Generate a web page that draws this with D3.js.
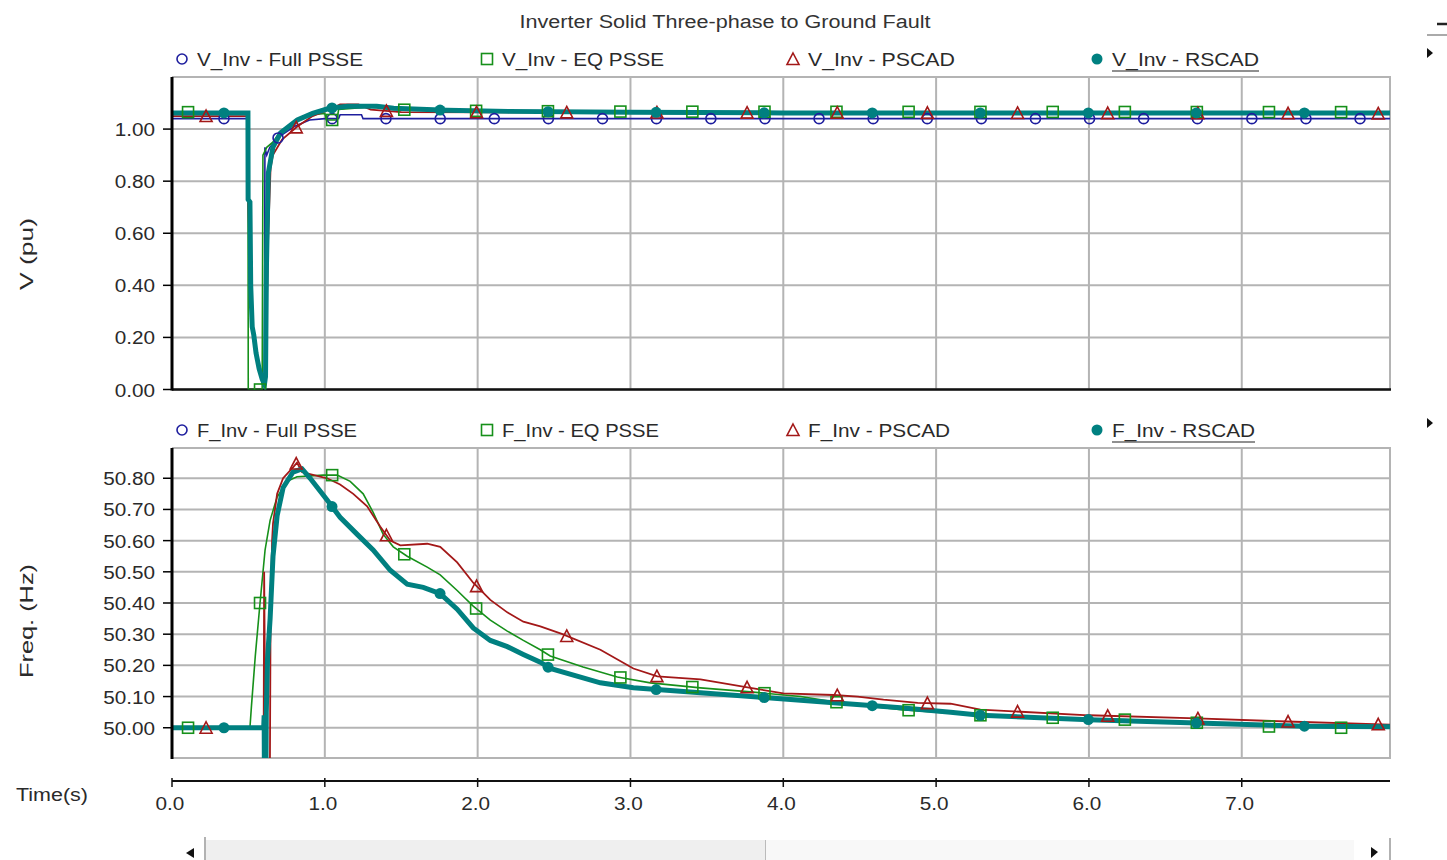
<!DOCTYPE html>
<html>
<head>
<meta charset="utf-8">
<script src="https://cdn.jsdelivr.net/npm/d3@7"></script>
<style>
  html, body { margin: 0; padding: 0; background: #ffffff; }
  svg { display: block; }
  text { font-family: "Liberation Sans", Arial, sans-serif; fill: #2a2a2a; }
</style>
</head>
<body>
<svg id="chart" width="1447" height="860"></svg>
<script>
// ---------------- DATA ----------------
const title = "Inverter Solid Three-phase to Ground Fault";
const xTicks = [0, 1, 2, 3, 4, 5, 6, 7];
const vTicks = [0, 0.2, 0.4, 0.6, 0.8, 1.0];
const fTicks = [50.0, 50.1, 50.2, 50.3, 50.4, 50.5, 50.6, 50.7, 50.8];
const seriesNames = ["Full PSSE", "EQ PSSE", "PSCAD", "RSCAD"];

// Voltage (pu) — [time s, value]
const vFullPSSE = [[0,1.04],[0.497,1.04],[0.50,0.72],[0.51,0.40],[0.53,0.20],[0.57,0.07],[0.60,0.02],[0.605,0.02],[0.608,0.93],[0.62,0.90],[0.64,0.93],[0.70,0.97],[0.80,1.01],[0.90,1.035],[1.0,1.04],[1.09,1.04],[1.10,1.055],[1.24,1.055],[1.25,1.04],[7.97,1.04]];
const vEQPSSE = [[0,1.065],[0.497,1.065],[0.499,0.0],[0.59,0.0],[0.595,0.90],[0.62,0.93],[0.66,0.95],[0.71,0.99],[0.82,1.035],[0.92,1.055],[1.0,1.06],[1.01,1.035],[1.08,1.035],[1.09,1.075],[1.3,1.085],[1.45,1.075],[2.0,1.07],[3.0,1.067],[7.97,1.065]];
const vPSCAD = [[0,1.05],[0.497,1.05],[0.50,0.72],[0.51,0.40],[0.53,0.20],[0.57,0.07],[0.60,0.02],[0.615,0.02],[0.62,0.30],[0.63,0.60],[0.645,0.85],[0.66,0.90],[0.72,0.96],[0.82,1.01],[0.92,1.05],[1.05,1.08],[1.10,1.095],[1.22,1.095],[1.30,1.075],[1.50,1.065],[7.97,1.06]];
const vRSCAD = [[0,1.062],[0.497,1.062],[0.498,0.73],[0.51,0.72],[0.515,0.40],[0.525,0.24],[0.535,0.21],[0.55,0.14],[0.57,0.08],[0.59,0.04],[0.605,0.02],[0.612,0.05],[0.618,0.47],[0.63,0.83],[0.66,0.93],[0.71,0.985],[0.82,1.035],[0.92,1.06],[1.03,1.08],[1.15,1.088],[1.34,1.088],[1.45,1.08],[1.8,1.072],[2.2,1.068],[3.0,1.065],[4.0,1.062],[7.97,1.062]];

// Frequency (Hz) — [time s, value]
const fEQPSSE = [[0,50.0],[0.51,50.0],[0.52,50.07],[0.545,50.23],[0.576,50.40],[0.609,50.57],[0.642,50.665],[0.688,50.74],[0.753,50.79],[0.818,50.805],[0.989,50.81],[1.081,50.81],[1.166,50.79],[1.251,50.75],[1.317,50.69],[1.382,50.62],[1.448,50.58],[1.539,50.55],[1.67,50.515],[1.755,50.49],[1.866,50.44],[1.971,50.39],[2.083,50.345],[2.194,50.31],[2.299,50.28],[2.41,50.25],[2.475,50.23],[2.69,50.195],[2.914,50.163],[3.13,50.144],[3.458,50.128],[3.785,50.115],[4.113,50.10],[4.329,50.083],[4.768,50.058],[5.29,50.04],[5.763,50.032],[6.235,50.026],[6.706,50.016],[7.178,50.004],[7.65,50.0],[7.97,50.0]];
const fPSCAD = [[0,50.0],[0.60,50.0],[0.603,50.5],[0.607,50.23],[0.612,49.80],[0.64,49.80],[0.645,50.35],[0.655,50.60],[0.661,50.655],[0.688,50.75],[0.727,50.80],[0.792,50.835],[0.818,50.85],[0.85,50.82],[1.015,50.80],[1.10,50.78],[1.186,50.75],[1.277,50.71],[1.362,50.645],[1.428,50.60],[1.494,50.585],[1.67,50.59],[1.755,50.58],[1.866,50.53],[1.971,50.465],[2.083,50.41],[2.194,50.37],[2.299,50.34],[2.41,50.325],[2.555,50.30],[2.803,50.25],[3.019,50.19],[3.176,50.165],[3.458,50.155],[3.785,50.128],[4.0,50.11],[4.329,50.105],[4.486,50.10],[4.656,50.09],[4.879,50.08],[5.095,50.077],[5.29,50.058],[6.0,50.04],[6.706,50.03],[7.295,50.02],[7.97,50.01]];
const fRSCAD = [[0,50.0],[0.60,50.0],[0.603,50.04],[0.605,49.80],[0.614,49.80],[0.617,50.05],[0.625,50.22],[0.642,50.35],[0.661,50.55],[0.688,50.68],[0.727,50.77],[0.792,50.82],[0.851,50.83],[0.904,50.80],[1.015,50.73],[1.10,50.675],[1.212,50.62],[1.316,50.57],[1.428,50.505],[1.539,50.46],[1.644,50.45],[1.755,50.43],[1.866,50.38],[1.971,50.32],[2.083,50.28],[2.194,50.26],[2.299,50.235],[2.41,50.21],[2.475,50.19],[2.803,50.144],[3.019,50.128],[3.458,50.112],[3.897,50.096],[4.329,50.08],[4.768,50.064],[5.095,50.05],[5.29,50.04],[6.0,50.026],[6.706,50.015],[7.41,50.005],[7.97,50.003]];

// Marker times (s) for each series
const mkFullPSSE = [0.34,0.694,1.048,1.40,1.755,2.109,2.463,2.817,3.17,3.526,3.88,4.234,4.588,4.942,5.296,5.65,6.004,6.358,6.71,7.066,7.42,7.774];
const mkEQPSSE = [0.105,0.576,1.048,1.52,1.99,2.46,2.934,3.405,3.877,4.348,4.82,5.29,5.763,6.235,6.706,7.178,7.65];
const mkPSCAD = [0.223,0.813,1.403,1.993,2.583,3.173,3.763,4.353,4.943,5.533,6.123,6.713,7.303,7.893];
const mkRSCAD = [0.34,1.047,1.754,2.461,3.168,3.875,4.582,5.289,5.996,6.703,7.41];

// ---------------- DRAWING ----------------
const svg = d3.select("#chart");
const STRETCH = 1.15;
const FS = 18;

const colors = {"Full PSSE":"#1e1e9e","EQ PSSE":"#16901a","PSCAD":"#a31818","RSCAD":"#008080"};
const widths = {"Full PSSE":1.6,"EQ PSSE":1.6,"PSCAD":1.8,"RSCAD":5};

function addText(g, x, y, str, opts = {}) {
  const t = g.append("text").attr("x", x).attr("y", y).text(str)
    .style("font-size", (opts.size || FS) + "px")
    .attr("text-anchor", opts.anchor || "start");
  if (opts.fill) t.style("fill", opts.fill);
  if (opts.transform) t.attr("transform", opts.transform);
  const w = t.node().getComputedTextLength();
  const target = opts.width || w * (opts.stretch || STRETCH);
  t.attr("textLength", target).attr("lengthAdjust", "spacingAndGlyphs");
  return t;
}

const x = d3.scaleLinear().domain([0, 7.97]).range([172, 1390]);
const yV = d3.scaleLinear().domain([0, 1.2]).range([389.5, 77]);
const yF = d3.scaleLinear().domain([49.903, 50.897]).range([758, 448]);

// title
addText(svg, 725, 28, title, {anchor: "middle", width: 411, fill: "#333"});

// top-right window controls
svg.append("line").attr("x1",1437).attr("x2",1447).attr("y1",24).attr("y2",24).attr("stroke","#222").attr("stroke-width",2.5);
svg.append("line").attr("x1",1427).attr("x2",1447).attr("y1",35).attr("y2",35).attr("stroke","#aaa").attr("stroke-width",2);
function arrowRight(cx, cy) {
  svg.append("path").attr("d", `M${cx-3},${cy-5} L${cx+3},${cy} L${cx-3},${cy+5} Z`).attr("fill","#111");
}
arrowRight(1430, 53);
arrowRight(1430, 423);

function drawMarker(g, shape, cx, cy, color) {
  if (shape === "circle") {
    g.append("circle").attr("cx", cx).attr("cy", cy).attr("r", 5).attr("fill","#fff").attr("fill-opacity",0).attr("stroke", color).attr("stroke-width",1.6);
  } else if (shape === "square") {
    g.append("rect").attr("x", cx-5.5).attr("y", cy-5.5).attr("width", 11).attr("height", 11).attr("fill","none").attr("stroke", color).attr("stroke-width",1.6);
  } else if (shape === "triangle") {
    g.append("path").attr("d", `M${cx},${cy-6} L${cx+6},${cy+5.5} L${cx-6},${cy+5.5} Z`).attr("fill","none").attr("stroke", color).attr("stroke-width",1.6);
  } else {
    g.append("circle").attr("cx", cx).attr("cy", cy).attr("r", 5.5).attr("fill", color);
  }
}
const shapes = {"Full PSSE":"circle","EQ PSSE":"square","PSCAD":"triangle","RSCAD":"dot"};
const legendX = [182, 487, 793, 1097];
const legendW = {
  V: [166, 162, 147, 147],
  F: [160, 157, 142, 143]
};

function drawPanel(opts) {
  const {y, ticks, top, bottom, prefix, legendY, series, bottomDark, fmt, axisLabel, axisLabelY, axisLabelW, key} = opts;
  const g = svg.append("g");
  // legend
  seriesNames.forEach((name, i) => {
    drawMarker(g, shapes[name], legendX[i], legendY - 7, colors[name]);
    const t = addText(g, legendX[i] + 15, legendY, `${prefix}_Inv - ${name}`, {width: legendW[key][i]});
    if (name === "RSCAD") {
      g.append("line").attr("x1", legendX[i]+15).attr("x2", legendX[i]+15+legendW[key][i])
        .attr("y1", legendY+5).attr("y2", legendY+5).attr("stroke","#222").attr("stroke-width",1.2);
    }
  });
  // gridlines
  const grid = g.append("g").attr("stroke", "#b4b4b4").attr("stroke-width", 2);
  ticks.forEach(v => {
    grid.append("line").attr("x1", 172).attr("x2", 1390).attr("y1", y(v)).attr("y2", y(v));
  });
  xTicks.slice(1).forEach(v => {
    grid.append("line").attr("x1", x(v)).attr("x2", x(v)).attr("y1", top).attr("y2", bottom);
  });
  grid.append("line").attr("x1", 172).attr("x2", 1391).attr("y1", top).attr("y2", top);
  grid.append("line").attr("x1", 1390).attr("x2", 1390).attr("y1", top).attr("y2", bottom);
  grid.append("line").attr("x1", 172).attr("x2", 1391).attr("y1", bottom).attr("y2", bottom)
    .attr("stroke", bottomDark ? "#111" : "#b4b4b4").attr("stroke-width", bottomDark ? 2.5 : 2);

  // clip
  const cid = "clip" + prefix;
  svg.append("clipPath").attr("id", cid).append("rect")
    .attr("x", 172).attr("y", top).attr("width", 1390 - 172).attr("height", bottom - top);
  const plot = g.append("g").attr("clip-path", `url(#${cid})`);
  const line = d3.line().x(d => x(d[0])).y(d => y(d[1]));
  series.forEach(s => {
    if (!s.data) return;
    plot.append("path").datum(s.data).attr("d", line)
      .attr("fill", "none").attr("stroke", colors[s.name]).attr("stroke-width", widths[s.name])
      .attr("stroke-linejoin", "miter");
  });
  // markers
  series.forEach(s => {
    if (!s.data) return;
    const interp = d3.scaleLinear().domain(s.data.map(d => d[0])).range(s.data.map(d => d[1]));
    s.marks.forEach(t => drawMarker(plot, shapes[s.name], x(t), y(interp(t)), colors[s.name]));
  });

  // y axis
  g.append("line").attr("x1", 172).attr("x2", 172).attr("y1", top).attr("y2", bottom + 1)
    .attr("stroke", "#000").attr("stroke-width", 3);
  ticks.forEach(v => {
    g.append("line").attr("x1", 163).attr("x2", 172).attr("y1", y(v)).attr("y2", y(v)).attr("stroke", "#000").attr("stroke-width", 1.5);
    addText(g, 155, y(v) + 7, fmt(v), {anchor: "end"});
  });
  addText(g, 0, 0, axisLabel, {anchor: "middle", width: axisLabelW,
    transform: `translate(33,${axisLabelY}) rotate(-90)`});
}

drawPanel({
  key: "V", y: yV, ticks: vTicks, top: 77, bottom: 389.5, prefix: "V", legendY: 66, bottomDark: true,
  fmt: d3.format(".2f"), axisLabel: "V (pu)", axisLabelY: 254, axisLabelW: 72,
  series: [
    {name: "Full PSSE", data: vFullPSSE, marks: mkFullPSSE},
    {name: "EQ PSSE", data: vEQPSSE, marks: mkEQPSSE},
    {name: "PSCAD", data: vPSCAD, marks: mkPSCAD},
    {name: "RSCAD", data: vRSCAD, marks: mkRSCAD}
  ]
});

drawPanel({
  key: "F", y: yF, ticks: fTicks, top: 448, bottom: 758, prefix: "F", legendY: 437, bottomDark: false,
  fmt: d3.format(".2f"), axisLabel: "Freq. (Hz)", axisLabelY: 621, axisLabelW: 114,
  series: [
    {name: "Full PSSE", data: null, marks: []},
    {name: "EQ PSSE", data: fEQPSSE, marks: mkEQPSSE},
    {name: "PSCAD", data: fPSCAD, marks: mkPSCAD},
    {name: "RSCAD", data: fRSCAD, marks: mkRSCAD}
  ]
});

// time axis
const tAxis = svg.append("g");
tAxis.append("line").attr("x1", 172).attr("x2", 1390).attr("y1", 781).attr("y2", 781).attr("stroke", "#111").attr("stroke-width", 2);
xTicks.forEach(v => {
  tAxis.append("line").attr("x1", x(v)).attr("x2", x(v)).attr("y1", 778).attr("y2", 787).attr("stroke", "#111").attr("stroke-width", 1.5);
  addText(tAxis, x(v) - 2, 810, d3.format(".1f")(v), {anchor: "middle"});
});
addText(svg, 16, 801, "Time(s)", {width: 72});

// scrollbar
const sb = svg.append("g");
sb.append("path").attr("d", "M194,848 L186,853 L194,858 Z").attr("fill", "#111");
sb.append("rect").attr("x", 206).attr("y", 840).attr("width", 560).attr("height", 20).attr("fill", "#efefef");
sb.append("rect").attr("x", 766).attr("y", 840).attr("width", 588).attr("height", 20).attr("fill", "#f8f8f8");
sb.append("line").attr("x1", 205).attr("x2", 205).attr("y1", 837).attr("y2", 860).attr("stroke", "#999").attr("stroke-width", 1.5);
sb.append("line").attr("x1", 765.5).attr("x2", 765.5).attr("y1", 840).attr("y2", 860).attr("stroke", "#bbb").attr("stroke-width", 1);
sb.append("path").attr("d", "M1371,847 L1378,852 L1371,858 Z").attr("fill", "#111");
sb.append("line").attr("x1", 1390).attr("x2", 1390).attr("y1", 838).attr("y2", 860).attr("stroke", "#999").attr("stroke-width", 1.5);
</script>
</body>
</html>
